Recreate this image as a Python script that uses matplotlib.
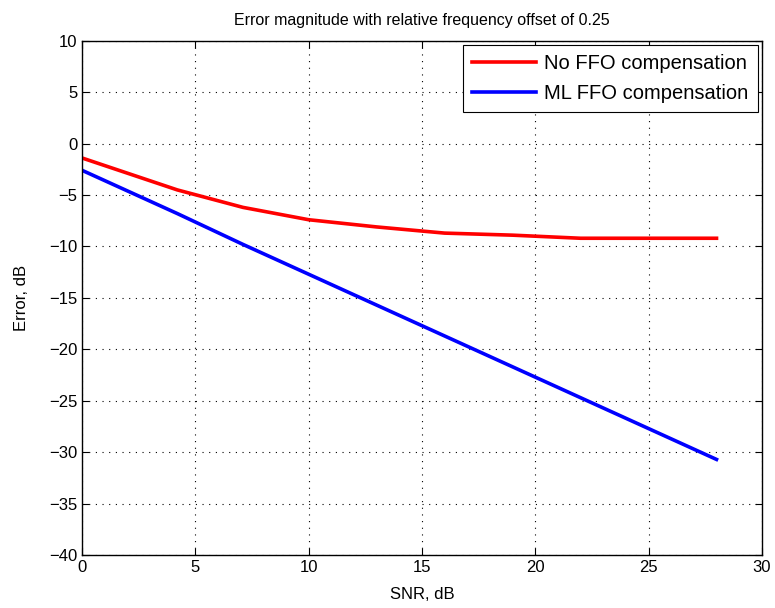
import matplotlib
matplotlib.use("Agg")
import matplotlib.pyplot as plt

plt.rcParams['font.family'] = ['Liberation Sans', 'DejaVu Sans']

# Data
snr_db = [0, 4.2, 7.1, 10, 13, 16, 19, 22, 25, 28]
err_no_ffo = [-1.4, -4.5, -6.2, -7.4, -8.1, -8.7, -8.9, -9.2, -9.2, -9.2]
err_ml_ffo = [-2.6, -6.8, -9.8, -12.7, -15.7, -18.7, -21.7, -24.7, -27.7, -30.7]
series_labels = ["No FFO compensation", "ML FFO compensation"]

fig = plt.figure(figsize=(7.75, 6.08), dpi=100)
ax = fig.add_axes([0.106, 0.087, 0.877, 0.846])

ax.plot(snr_db, err_no_ffo, color='#ff0000', linewidth=2.6, label=series_labels[0])
ax.plot(snr_db, err_ml_ffo, color='#0000ff', linewidth=2.6, label=series_labels[1])

ax.set_xlim(0, 30)
ax.set_ylim(-40, 10)
ax.set_xticks(range(0, 31, 5))
ax.set_yticks(range(-40, 11, 5))
ax.tick_params(direction='in', top=True, right=True, labelsize=12, length=5, width=0.8)
ax.grid(True, linestyle=(0, (1, 5)), color='black', linewidth=0.8)
for s in ax.spines.values():
    s.set_linewidth(1.0)

ax.set_xlabel("SNR, dB", fontsize=12, labelpad=9)
ax.set_ylabel("Error, dB", fontsize=12, labelpad=14)
ax.set_title("Error magnitude with relative frequency offset of 0.25", fontsize=11.5, pad=11)

leg = ax.legend(loc='upper right', fontsize=14.5, fancybox=False, framealpha=1,
                edgecolor='black', borderaxespad=0.2, handlelength=3.2,
                handletextpad=0.4, borderpad=0.45, labelspacing=0.55)
leg.get_frame().set_linewidth(0.8)

fig.savefig("out.png", dpi=100)
